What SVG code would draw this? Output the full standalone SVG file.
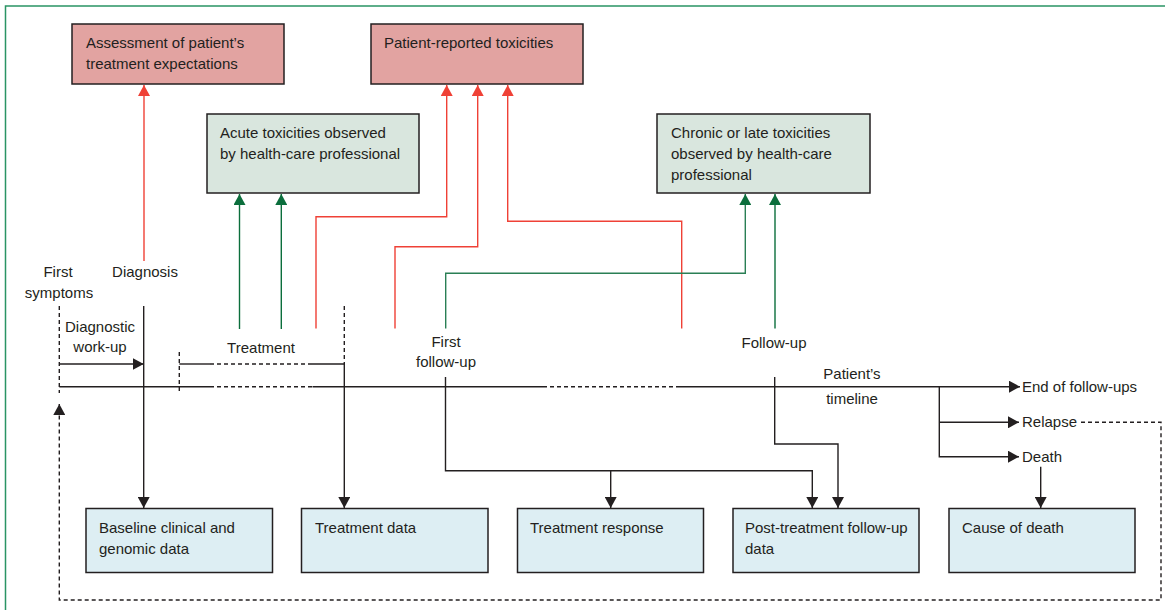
<svg xmlns="http://www.w3.org/2000/svg" width="1165" height="610" viewBox="0 0 1165 610">
<style>
text{font-family:"Liberation Sans",Arial,sans-serif;font-size:15px;fill:#231f20}
.pink{fill:#e2a3a1;stroke:#231f20;stroke-width:1.5}
.gray{fill:#d9e6de;stroke:#231f20;stroke-width:1.5}
.blue{fill:#ddeef3;stroke:#231f20;stroke-width:1.5}
.k{fill:none;stroke:#231f20;stroke-width:1.4}
.kd{fill:none;stroke:#231f20;stroke-width:1.4;stroke-dasharray:4 3}
.r{fill:none;stroke:#ef4136;stroke-width:1.4}
.g{fill:none;stroke:#0b6e3c;stroke-width:1.4}
.gl{fill:none;stroke:#2a7f55;stroke-width:1.4}
.c{text-anchor:middle}
</style>
<defs>
<marker id="ak" viewBox="0 0 11 12" refX="11" refY="6" markerWidth="11" markerHeight="12" markerUnits="userSpaceOnUse" orient="auto"><path d="M0,0 L11,6 L0,12 z" fill="#231f20"/></marker>
<marker id="ar" viewBox="0 0 11 12" refX="11" refY="6" markerWidth="11" markerHeight="12" markerUnits="userSpaceOnUse" orient="auto"><path d="M0,0 L11,6 L0,12 z" fill="#ef4136"/></marker>
<marker id="ag" viewBox="0 0 11 12" refX="11" refY="6" markerWidth="11" markerHeight="12" markerUnits="userSpaceOnUse" orient="auto"><path d="M0,0 L11,6 L0,12 z" fill="#0b6e3c"/></marker>
</defs>
<rect width="1165" height="610" fill="#ffffff"/>
<path d="M5.5,610 V6 H1165" fill="none" stroke="#2a9464" stroke-width="1.5"/>

<g id="n-expectations"><rect class="pink" x="72" y="24" width="212" height="60"/><text x="86" y="48">Assessment of patient’s</text><text x="86" y="69">treatment expectations</text></g>
<g id="n-patient-tox"><rect class="pink" x="371" y="24" width="212" height="60"/><text x="384" y="48">Patient-reported toxicities</text></g>
<g id="n-acute"><rect class="gray" x="207" y="114" width="212" height="79"/><text x="220" y="138">Acute toxicities observed</text><text x="220" y="159">by health-care professional</text></g>
<g id="n-chronic"><rect class="gray" x="657" y="114" width="213" height="79"/><text x="671" y="138">Chronic or late toxicities</text><text x="671" y="159">observed by health-care</text><text x="671" y="180">professional</text></g>
<g id="n-baseline"><rect class="blue" x="86" y="508.5" width="186.5" height="64"/><text x="99" y="533">Baseline clinical and</text><text x="99" y="554">genomic data</text></g>
<g id="n-treatdata"><rect class="blue" x="301.5" y="508.5" width="186.5" height="64"/><text x="315" y="533">Treatment data</text></g>
<g id="n-response"><rect class="blue" x="517.5" y="508.5" width="186" height="64"/><text x="530" y="533">Treatment response</text></g>
<g id="n-posttreat"><rect class="blue" x="733" y="508.5" width="186" height="64"/><text x="745" y="533">Post-treatment follow-up</text><text x="745" y="554">data</text></g>
<g id="n-cause"><rect class="blue" x="949" y="508.5" width="186" height="64"/><text x="962" y="533">Cause of death</text></g>

<g id="labels">
<text class="c" x="58" y="277">First</text><text class="c" x="59" y="298">symptoms</text>
<text class="c" x="145" y="277">Diagnosis</text>
<text class="c" x="100" y="332">Diagnostic</text><text class="c" x="100" y="352">work-up</text>
<text class="c" x="261" y="353">Treatment</text>
<text class="c" x="446" y="347">First</text><text class="c" x="446" y="367">follow-up</text>
<text class="c" x="774" y="348">Follow-up</text>
<text class="c" x="852" y="379">Patient’s</text><text class="c" x="852" y="404">timeline</text>
<text x="1022" y="392">End of follow-ups</text>
<text x="1022" y="427">Relapse</text>
<text x="1022" y="462">Death</text>
</g>

<g id="connectors">
<path class="k" d="M59.3,364 H143.7" marker-end="url(#ak)"/>
<path class="k" d="M59.3,386.7 H210"/>
<path class="kd" d="M210,386.7 H312.5"/>
<path class="k" d="M312.5,386.7 H543"/>
<path class="kd" d="M543,386.7 H680"/>
<path class="k" d="M680,386.7 H1020" marker-end="url(#ak)"/>
<path class="kd" d="M59.3,306 V393"/>
<path class="kd" d="M179.3,352 V393"/>
<path class="k" d="M179.3,364 H210"/>
<path class="kd" d="M210,364 H312"/>
<path class="k" d="M312,364 H344.3"/>
<path class="kd" d="M344.3,306 V364"/>
<path class="k" d="M344.3,364 V508" marker-end="url(#ak)"/>
<path class="k" d="M143.7,306 V508" marker-end="url(#ak)"/>
<path class="k" d="M445.5,377 V470.7 H812.3 V508" marker-end="url(#ak)"/>
<path class="k" d="M610.7,470.7 V508" marker-end="url(#ak)"/>
<path class="k" d="M774.7,377 V444 H838 V508" marker-end="url(#ak)"/>
<path class="k" d="M939.3,386.7 V456.7 H1019" marker-end="url(#ak)"/>
<path class="k" d="M939.3,422.3 H1019" marker-end="url(#ak)"/>
<path class="k" d="M1040.7,466.7 V508" marker-end="url(#ak)"/>
<path class="kd" d="M1081,422.3 H1161 V600 H59.3 V404" marker-end="url(#ak)"/>
<path class="r" d="M144,261 V85" marker-end="url(#ar)"/>
<path class="r" d="M316,328.5 V216.7 H446.7 V85" marker-end="url(#ar)"/>
<path class="r" d="M395,328.5 V246.7 H477.7 V85" marker-end="url(#ar)"/>
<path class="r" d="M681.7,328.5 V221.3 H507.7 V85" marker-end="url(#ar)"/>
<path class="g" d="M239.5,329 V194" marker-end="url(#ag)"/>
<path class="g" d="M281.3,329 V194" marker-end="url(#ag)"/>
<path class="gl" d="M445.7,328.5 V273.3 H745.3 V194" marker-end="url(#ag)"/>
<path class="g" d="M775,328.5 V194" marker-end="url(#ag)"/>
</g>
</svg>
